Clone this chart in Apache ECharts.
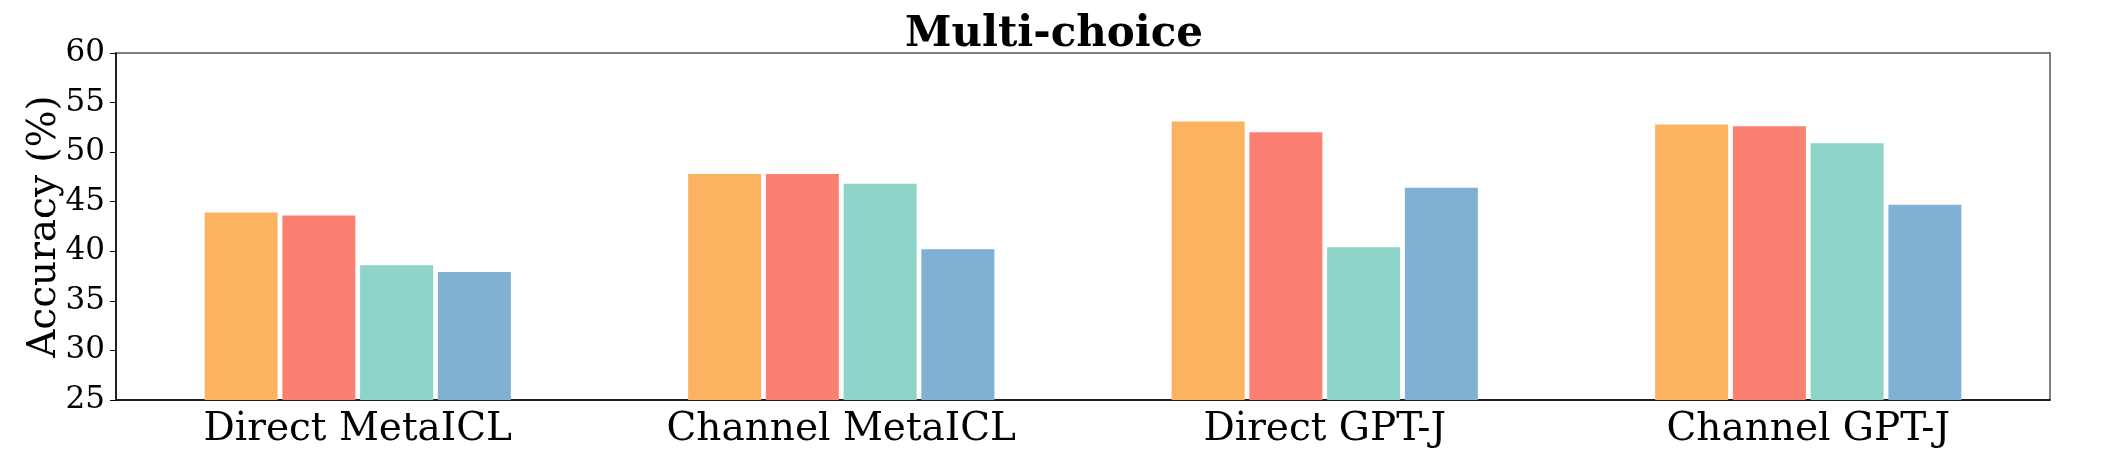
<!DOCTYPE html>
<html>
<head>
<meta charset="utf-8">
<script src="https://cdn.jsdelivr.net/npm/echarts@6/dist/echarts.min.js"></script>
<style>
  html, body { margin: 0; padding: 0; background: #fff; }
  #chart { width: 2108px; height: 450px; }
</style>
</head>
<body>
<div id="chart"></div>
<script>
// Multi-choice accuracy, four settings per model
const categories = ['Direct MetaICL', 'Channel MetaICL', 'Direct GPT-J', 'Channel GPT-J'];
const yTicks = [25, 30, 35, 40, 45, 50, 55, 60];

const seriesA = [43.9, 47.8, 53.1, 52.8];
const seriesB = [43.6, 47.8, 52.0, 52.6];
const seriesC = [38.6, 46.8, 40.4, 50.9];
const seriesD = [37.9, 40.2, 46.4, 44.7];

const seriesNames = ['A', 'B', 'C', 'D'];
const seriesColors = ['#fbb362', '#fb8072', '#8dd3c7', '#80b1d3'];

const FONT = '"DejaVu Serif", serif';

function initChart() {
    const chartDom = document.getElementById('chart');
    const myChart = echarts.init(chartDom, null, { renderer: 'canvas' });

    const values = [seriesA, seriesB, seriesC, seriesD];

    const option = {
        animation: false,
        backgroundColor: '#fff',
        title: {
            text: 'Multi-choice',
            left: 'center',
            top: 9,
            textStyle: {
                fontFamily: FONT,
                fontSize: 42,
                fontWeight: 'bold',
                color: '#000'
            }
        },
        grid: {
            left: 116,
            right: 58,
            top: 53,
            bottom: 50,
            show: true,
            borderColor: '#555',
            borderWidth: 1.5
        },
        xAxis: {
            type: 'category',
            data: categories,
            axisLine: { lineStyle: { color: '#000', width: 1.5 } },
            axisTick: { alignWithLabel: true, length: 5, lineStyle: { color: '#000' } },
            axisLabel: {
                fontFamily: FONT,
                fontSize: 39,
                color: '#000',
                margin: 10
            }
        },
        yAxis: {
            type: 'value',
            min: yTicks[0],
            max: yTicks[yTicks.length - 1],
            interval: 5,
            name: 'Accuracy (%)',
            nameLocation: 'middle',
            nameGap: 52,
            nameMoveOverlap: false,
            nameTextStyle: {
                fontFamily: FONT,
                fontSize: 39,
                color: '#000'
            },
            axisLine: { show: true, lineStyle: { color: '#000', width: 1.5 } },
            axisTick: { show: true, length: 6, lineStyle: { color: '#000' } },
            splitLine: { show: false },
            axisLabel: {
                fontFamily: FONT,
                fontSize: 31,
                color: '#000',
                margin: 11
            }
        },
        series: values.map(function (data, i) {
            return {
                name: seriesNames[i],
                type: 'bar',
                data: data,
                barWidth: 73,
                barGap: '6.5%',
                itemStyle: { color: seriesColors[i] }
            };
        })
    };

    myChart.setOption(option);
    return myChart;
}

initChart();
</script>
</body>
</html>
